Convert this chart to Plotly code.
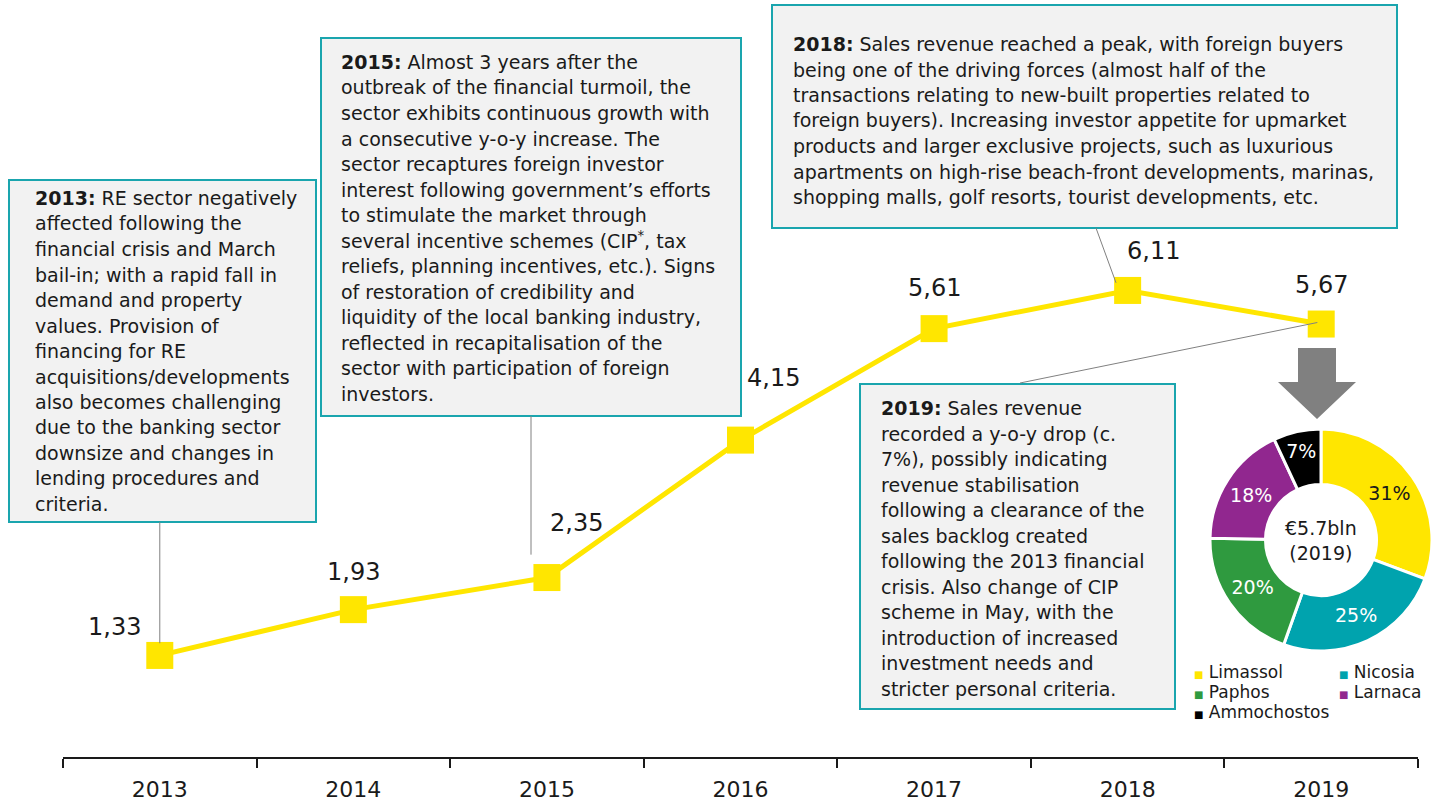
import plotly.graph_objects as go

# sales revenue, € bn
years = ["2013", "2014", "2015", "2016", "2017", "2018", "2019"]
revenue = [1.33, 1.93, 2.35, 4.15, 5.61, 6.11, 5.67]
revenue_labels = ["1,33", "1,93", "2,35", "4,15", "5,61", "6,11", "5,67"]

# 2019 split by district, %
districts = ["Limassol", "Nicosia", "Paphos", "Larnaca", "Ammochostos"]
district_share = [31, 25, 20, 18, 7]
district_colors = ["#FFE600", "#00A3AE", "#2F9A3F", "#91278F", "#000000"]
district_text_colors = ["#1A1A1A", "white", "white", "white", "white"]

FONT = "DejaVu Sans"
TEXT = "#1A1A1A"
TEAL = "#1AA5AE"
YELLOW = "#FFE600"

W, H = 1445, 803
PLOT_BOTTOM = 757
PX_PER_UNIT = 76.36
YMAX = PLOT_BOTTOM / PX_PER_UNIT
X0, X1 = 63, 1418
STEP = (X1 - X0) / len(years)
LINE_STEP = 25.5


def px(x):
    return x / W


def py(y):
    return (PLOT_BOTTOM - y) / PLOT_BOTTOM


def xd(x):
    return (x - X0) / STEP - 0.5


def yd(y):
    return (PLOT_BOTTOM - y) / PX_PER_UNIT


notes = {
    "2013": [
        "<b>2013:</b> RE sector negatively",
        "affected following the",
        "financial crisis and March",
        "bail-in; with a rapid fall in",
        "demand and property",
        "values. Provision of",
        "financing for RE",
        "acquisitions/developments",
        "also becomes challenging",
        "due to the banking sector",
        "downsize and changes in",
        "lending procedures and",
        "criteria.",
    ],
    "2015": [
        "<b>2015:</b> Almost 3 years after the",
        "outbreak of the financial turmoil, the",
        "sector exhibits continuous growth with",
        "a consecutive y-o-y increase. The",
        "sector recaptures foreign investor",
        "interest following government’s efforts",
        "to stimulate the market through",
        "several incentive schemes (CIP<sup>*</sup>, tax",
        "reliefs, planning incentives, etc.). Signs",
        "of restoration of credibility and",
        "liquidity of the local banking industry,",
        "reflected in recapitalisation of the",
        "sector with participation of foreign",
        "investors.",
    ],
    "2018": [
        "<b>2018:</b> Sales revenue reached a peak, with foreign buyers",
        "being one of the driving forces (almost half of the",
        "transactions relating to new-built properties related to",
        "foreign buyers). Increasing investor appetite for upmarket",
        "products and larger exclusive projects, such as luxurious",
        "apartments on high-rise beach-front developments, marinas,",
        "shopping malls, golf resorts, tourist developments, etc.",
    ],
    "2019": [
        "<b>2019:</b> Sales revenue",
        "recorded a y-o-y drop (c.",
        "7%), possibly indicating",
        "revenue stabilisation",
        "following a clearance of the",
        "sales backlog created",
        "following the 2013 financial",
        "crisis. Also change of CIP",
        "scheme in May, with the",
        "introduction of increased",
        "investment needs and",
        "stricter personal criteria.",
    ],
}

# box: left, top, right, bottom, text left, first line centre (pixels)
boxes = {
    "2013": (9, 180, 316, 522, 33, 198),
    "2015": (321, 38, 741, 416, 339, 62),
    "2018": (772, 5, 1397, 228, 791, 44),
    "2019": (860, 384, 1175, 709, 879, 408),
}

fig = go.Figure()

fig.add_trace(
    go.Scatter(
        x=years,
        y=revenue,
        mode="lines+markers",
        line=dict(color=YELLOW, width=5),
        marker=dict(symbol="square", size=27, color=YELLOW),
        showlegend=False,
        hoverinfo="skip",
    )
)

fig.add_trace(
    go.Pie(
        labels=districts,
        values=district_share,
        hole=0.5,
        sort=False,
        direction="clockwise",
        rotation=0,
        marker=dict(colors=district_colors, line=dict(color="white", width=3)),
        texttemplate="%{value}%",
        textposition="inside",
        insidetextorientation="horizontal",
        textfont=dict(family=FONT, size=19, color=district_text_colors),
        domain=dict(x=[px(1210), px(1432)], y=[py(652), py(428)]),
        showlegend=False,
        hoverinfo="skip",
    )
)

shapes = []
for key, (l, t, r, b, _, _) in boxes.items():
    shapes.append(
        dict(
            type="rect", xref="paper", yref="paper",
            x0=px(l), x1=px(r), y0=py(b), y1=py(t),
            fillcolor="#F2F2F2", line=dict(color=TEAL, width=2),
        )
    )

# connectors from boxes to points
grey = dict(color="#808080", width=1)
shapes += [
    dict(type="line", xref="x", yref="y", x0=0, x1=0, y0=yd(522), y1=revenue[0] + 0.16, line=grey),
    dict(type="line", xref="x", yref="y", x0=xd(531), x1=xd(531), y0=yd(416), y1=revenue[2] + 0.3, line=grey),
    dict(type="line", xref="x", yref="y", x0=xd(1096), x1=5 - 0.06, y0=yd(228), y1=revenue[5] + 0.1, line=grey),
    dict(type="line", xref="x", yref="y", x0=xd(1020), x1=6 - 0.02, y0=yd(383), y1=revenue[6] + 0.02, line=grey),
]

# arrow down to the pie
path = (
    f"M {px(1298)} {py(348)} L {px(1336)} {py(348)} L {px(1336)} {py(382)} "
    f"L {px(1356)} {py(382)} L {px(1317)} {py(419)} L {px(1278)} {py(382)} "
    f"L {px(1298)} {py(382)} Z"
)
shapes.append(dict(type="path", xref="paper", yref="paper", path=path,
                   fillcolor="#808080", line=dict(width=0)))

annotations = []
for key, lines in notes.items():
    l, t, r, b, tx, ty = boxes[key]
    for i, line in enumerate(lines):
        annotations.append(
            dict(
                xref="paper", yref="paper", x=px(tx), y=py(ty + i * LINE_STEP),
                xanchor="left", yanchor="middle", align="left",
                text=line, showarrow=False,
                font=dict(family=FONT, size=19, color=TEXT),
            )
        )

label_shift = [(-45, 28), (0, 38), (30, 55), (33, 62), (0, 41), (26, 39), (0, 39)]
for i, (v, lab, (dx, dy)) in enumerate(zip(revenue, revenue_labels, label_shift)):
    annotations.append(
        dict(xref="x", yref="y", x=i, y=v, text=lab, showarrow=False,
             xanchor="center", yanchor="middle", xshift=dx, yshift=dy,
             font=dict(family=FONT, size=24, color=TEXT))
    )

annotations.append(
    dict(xref="paper", yref="paper", x=px(1321), y=py(540), text="€5.7bln<br>(2019)",
         xanchor="center", yanchor="middle", showarrow=False,
         font=dict(family=FONT, size=19, color=TEXT))
)

legend_pos = [(1192, 672), (1337, 672), (1192, 692), (1337, 692), (1192, 712)]
for name, col, (lx, ly) in zip(districts, district_colors, legend_pos):
    annotations.append(
        dict(
            xref="paper", yref="paper", x=px(lx), y=py(ly),
            xanchor="left", yanchor="middle", showarrow=False,
            text=f"<span style='color:{col};font-size:10px'>■</span> {name}",
            font=dict(family=FONT, size=17, color=TEXT),
        )
    )

fig.update_layout(
    width=W,
    height=H,
    margin=dict(l=0, r=0, t=0, b=H - PLOT_BOTTOM),
    paper_bgcolor="white",
    plot_bgcolor="white",
    font=dict(family=FONT, color=TEXT),
    shapes=shapes,
    annotations=annotations,
    xaxis=dict(
        domain=[px(X0), px(X1)],
        type="category",
        range=[-0.5, len(years) - 0.5],
        tickson="boundaries",
        ticks="outside",
        ticklen=9,
        tickwidth=2,
        tickcolor="#1A1A1A",
        showline=True,
        linecolor="#1A1A1A",
        linewidth=2,
        showgrid=False,
        tickfont=dict(family=FONT, size=22, color=TEXT),
        ticklabelstandoff=12,
        fixedrange=True,
    ),
    yaxis=dict(range=[0, YMAX], visible=False, fixedrange=True),
)

fig.write_html(
    "out.html",
    config={"displayModeBar": False},
    post_script="document.body.style.margin='0';document.body.style.overflow='hidden';",
)
